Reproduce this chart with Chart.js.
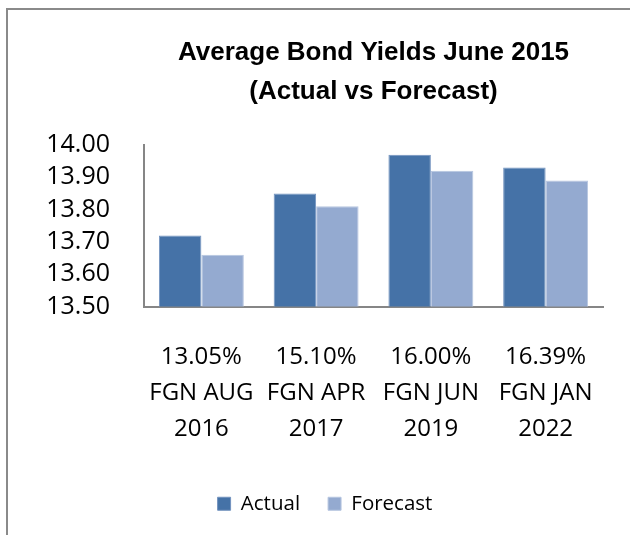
<!DOCTYPE html>
<html>
<head>
<meta charset="utf-8">
<script src="https://cdn.jsdelivr.net/npm/chart.js@4"></script>
<style>
  html, body { margin: 0; padding: 0; background: #fff; overflow: hidden; }
  #wrap { position: relative; width: 630px; height: 535px; }
  #frame { position: absolute; left: 6px; top: 8px; right: -10px; bottom: -10px;
           border-left: 2px solid #8a8a8a; border-top: 2px solid #8a8a8a; }
  canvas { position: absolute; left: 0; top: 0; }
</style>
</head>
<body>
<div id="wrap">
  <div id="frame"></div>
  <canvas id="chart" width="630" height="535"></canvas>
</div>
<script>
const coupons = ['13.05%', '15.10%', '16.00%', '16.39%'];
const bonds = ['FGN AUG', 'FGN APR', 'FGN JUN', 'FGN JAN'];
const years = ['2016', '2017', '2019', '2022'];
const actual = [13.72, 13.85, 13.97, 13.93];
const forecast = [13.66, 13.81, 13.92, 13.89];
const yMin = 13.5, yMax = 14.0, yStep = 0.1;

const labels = coupons.map((c, i) => [c, bonds[i], years[i]]);

Chart.defaults.color = '#000';
Chart.defaults.font.family = "'Open Sans', 'Liberation Sans', sans-serif";

new Chart(document.getElementById('chart'), {
    type: 'bar',
    data: {
        labels: labels,
        datasets: [
            { label: 'Actual', data: actual, backgroundColor: '#4572A7', borderColor: '#7393BF', borderWidth: 1 },
            { label: 'Forecast', data: forecast, backgroundColor: '#94AAD0', borderColor: '#B7C6E0', borderWidth: 1 }
        ]
    },
    options: {
        responsive: false,
        devicePixelRatio: 1,
        animation: false,
        layout: { padding: { left: 47, right: 27, top: 34, bottom: 11 } },
        datasets: { bar: { categoryPercentage: 0.74, barPercentage: 1.0 } },
        scales: {
            x: {
                grid: { display: false, drawTicks: false },
                border: { display: true, color: '#868686', width: 2 },
                ticks: { padding: 33, font: { size: 24, lineHeight: 1.5 }, maxRotation: 0, autoSkip: false },
                afterFit: s => { s.height = 159; }
            },
            y: {
                min: yMin, max: yMax,
                grid: { display: false, drawTicks: false },
                border: { display: true, color: '#868686', width: 2 },
                ticks: { stepSize: yStep, autoSkip: false, padding: 34, font: { size: 25, lineHeight: 1 }, callback: v => v.toFixed(2) },
                afterFit: s => { s.width = 97; }
            }
        },
        plugins: {
            title: {
                display: true,
                fullSize: false,
                text: ['Average Bond Yields June 2015', '(Actual vs Forecast)'],
                font: { family: "'Liberation Sans', Arial, sans-serif", size: 26, weight: 'bold', lineHeight: 1.48 },
                padding: { top: 0, bottom: 34 }
            },
            legend: {
                position: 'bottom',
                maxHeight: 62,
                labels: { boxWidth: 13, boxHeight: 13, padding: 28, font: { size: 20.5 } }
            },
            tooltip: { enabled: false }
        }
    }
});
</script>
</body>
</html>
